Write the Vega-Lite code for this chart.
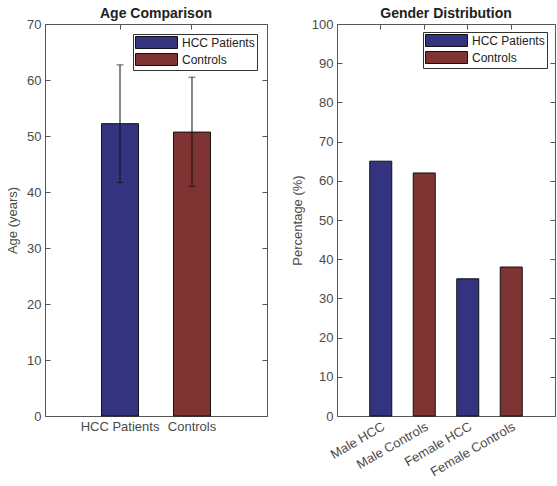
{
  "$schema": "https://vega.github.io/schema/vega-lite/v6.json",
  "padding": {"left": 6, "top": 6, "right": 0, "bottom": 0},
  "spacing": 22,
  "background": "white",
  "config": {
    "font": "Liberation Sans",
    "view": {"stroke": "#555555", "strokeWidth": 1},
    "axis": {
      "domain": false,
      "grid": false,
      "tickSize": -5,
      "tickColor": "#555555",
      "labelFont": "Liberation Sans",
      "labelFontSize": 13,
      "labelColor": "#4a4a4a",
      "labelPadding": 9,
      "titleFont": "Liberation Sans",
      "titleFontSize": 13,
      "titleFontWeight": "normal",
      "titleColor": "#4a4a4a",
      "titlePadding": 7
    },
    "title": {"font": "Liberation Sans", "fontSize": 14, "fontWeight": "bold", "color": "#222222", "offset": -3},
    "legend": {
      "orient": "top-right",
      "title": null,
      "strokeColor": "#333333",
      "fillColor": "white",
      "padding": 2,
      "labelFont": "Liberation Sans",
      "labelFontSize": 12,
      "labelColor": "#222222",
      "symbolType": "M-1,-1H6V1H-1Z",
      "symbolSize": 144,
      "symbolStrokeColor": "#111111",
      "symbolStrokeWidth": 1,
      "symbolOpacity": 1,
      "labelOffset": 34,
      "rowPadding": 0
    }
  },
  "resolve": {"scale": {"color": "independent"}, "legend": {"color": "independent"}},
  "hconcat": [
    {
      "width": 222,
      "height": 392,
      "title": "Age Comparison",
      "data": {"values": [
        {"group": "HCC Patients", "mean": 52.2, "lo": 41.7, "hi": 62.7},
        {"group": "Controls", "mean": 50.7, "lo": 41.0, "hi": 60.5}
      ]},
      "resolve": {"axis": {"x": "independent", "y": "independent"}},
      "layer": [
        {
          "mark": {"type": "bar", "stroke": "#111111", "strokeWidth": 1},
          "encoding": {
            "x": {"field": "group", "type": "nominal", "sort": null,
                  "scale": {"paddingInner": 0.486, "paddingOuter": 0.785},
                  "axis": {"title": null, "labelAngle": 0, "orient": "bottom"}},
            "y": {"field": "mean", "type": "quantitative",
                  "scale": {"domain": [0, 70], "nice": false, "zero": true},
                  "axis": {"title": "Age (years)", "values": [0, 10, 20, 30, 40, 50, 60, 70], "orient": "left"}},
            "color": {"field": "group", "type": "nominal",
                      "scale": {"domain": ["HCC Patients", "Controls"], "range": ["#33337F", "#7F3333"]},
                      "legend": {"offset": 10}}
          }
        },
        {
          "mark": {"type": "rule", "color": "#111111", "strokeWidth": 1},
          "encoding": {
            "x": {"field": "group", "type": "nominal", "sort": null, "axis": null},
            "y": {"field": "lo", "type": "quantitative", "axis": null},
            "y2": {"field": "hi"}
          }
        },
        {
          "mark": {"type": "tick", "color": "#111111", "thickness": 1, "size": 7, "orient": "horizontal"},
          "encoding": {
            "x": {"field": "group", "type": "nominal", "sort": null, "axis": null},
            "y": {"field": "lo", "type": "quantitative", "axis": null}
          }
        },
        {
          "mark": {"type": "tick", "color": "#111111", "thickness": 1, "size": 7, "orient": "horizontal"},
          "encoding": {
            "x": {"field": "group", "type": "nominal", "sort": null, "axis": null},
            "y": {"field": "hi", "type": "quantitative", "axis": null}
          }
        },
        {
          "mark": {"type": "tick", "opacity": 0},
          "encoding": {
            "x": {"field": "group", "type": "nominal", "sort": null,
                  "axis": {"orient": "top", "labels": false, "title": null}},
            "y": {"field": "mean", "type": "quantitative",
                  "axis": {"orient": "right", "labels": false, "title": null, "values": [0, 10, 20, 30, 40, 50, 60, 70]}}
          }
        }
      ]
    },
    {
      "width": 218,
      "height": 392,
      "title": "Gender Distribution",
      "data": {"values": [
        {"cat": "Male HCC", "group": "HCC Patients", "pct": 65},
        {"cat": "Male Controls", "group": "Controls", "pct": 62},
        {"cat": "Female HCC", "group": "HCC Patients", "pct": 35},
        {"cat": "Female Controls", "group": "Controls", "pct": 38}
      ]},
      "resolve": {"axis": {"x": "independent", "y": "independent"}},
      "layer": [
        {
          "mark": {"type": "bar", "stroke": "#111111", "strokeWidth": 1},
          "encoding": {
            "x": {"field": "cat", "type": "nominal", "sort": null,
                  "scale": {"paddingInner": 0.494, "paddingOuter": 0.753},
                  "axis": {"title": null, "labelAngle": -30, "labelAlign": "right", "labelBaseline": "top", "orient": "bottom"}},
            "y": {"field": "pct", "type": "quantitative",
                  "scale": {"domain": [0, 100], "nice": false},
                  "axis": {"title": "Percentage (%)", "values": [0, 10, 20, 30, 40, 50, 60, 70, 80, 90, 100], "orient": "left"}},
            "color": {"field": "group", "type": "nominal",
                      "scale": {"domain": ["HCC Patients", "Controls"], "range": ["#33337F", "#7F3333"]},
                      "legend": {"offset": 8}}
          }
        },
        {
          "mark": {"type": "tick", "opacity": 0},
          "encoding": {
            "x": {"field": "cat", "type": "nominal", "sort": null,
                  "axis": {"orient": "top", "labels": false, "title": null}},
            "y": {"field": "pct", "type": "quantitative",
                  "axis": {"orient": "right", "labels": false, "title": null, "values": [0, 10, 20, 30, 40, 50, 60, 70, 80, 90, 100]}}
          }
        }
      ]
    }
  ]
}
